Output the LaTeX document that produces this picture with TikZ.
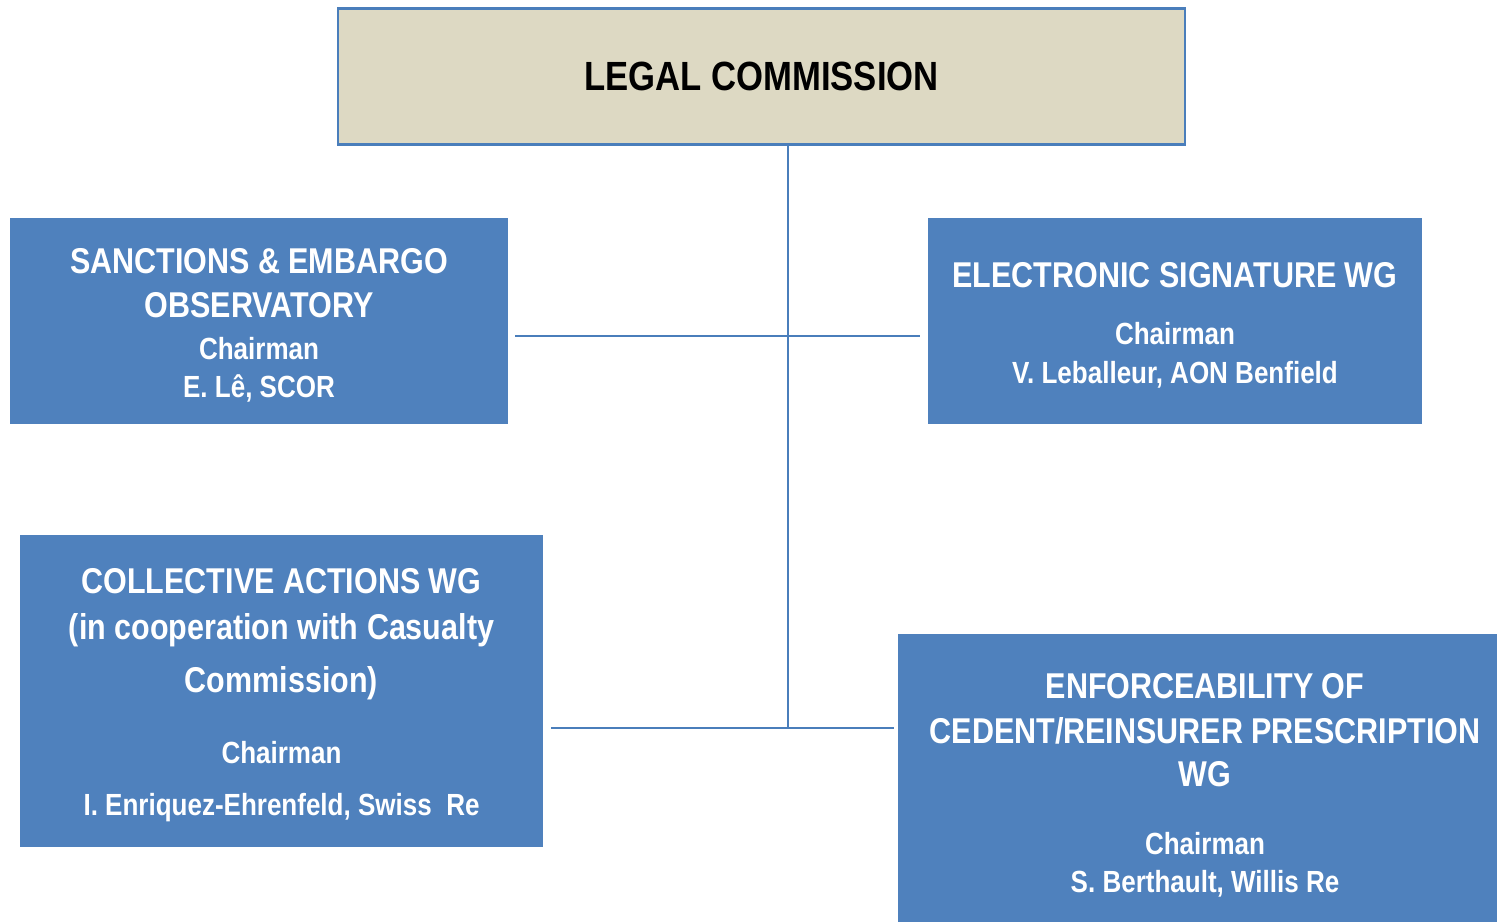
\documentclass[tikz,border=0pt]{standalone}
\usepackage{fontspec}
\setmainfont[FakeStretch=0.85]{Liberation Sans}
\definecolor{wgblue}{HTML}{4F81BD}
\definecolor{commtan}{HTML}{DDD9C3}
\definecolor{linkblue}{HTML}{4A7EBB}
\newcommand{\chairfont}{\fontsize{8.7}{12.5}\selectfont}
\newcommand{\topstrut}{\rule{0pt}{9.6pt}}

\begin{document}
\begin{tikzpicture}[
      x=0.01cm, y=-0.01cm,
      link/.style={draw=linkblue, line width=0.6pt},
      wgbox/.style={fill=wgblue, text=white, align=center, inner sep=0pt,
        font=\bfseries\fontsize{10.2}{12.5}\selectfont},
      commbox/.style={fill=commtan, draw=linkblue, line width=0.6pt, inner sep=0pt,
        font=\bfseries\fontsize{11.6}{14}\selectfont},
      ]
      \useasboundingbox (0,0) rectangle (1497,921);

      \node[commbox, minimum width=8.47cm, minimum height=1.36cm] (legal) at (761.5,76.5) {LEGAL COMMISSION};

      \node[wgbox, minimum width=4.98cm, minimum height=2.06cm] (sanctions) at (259,321)
        {\topstrut SANCTIONS \& EMBARGO\\ OBSERVATORY\\[-0.3pt] {\chairfont Chairman}\\[-1.7pt] {\chairfont E. Lê, SCOR}};
      \node[wgbox, minimum width=4.94cm, minimum height=2.06cm] (esign) at (1175,321)
        {\topstrut ELECTRONIC SIGNATURE WG\\[3.7pt] {\chairfont Chairman}\\[-1.4pt] {\chairfont V. Leballeur, AON Benfield}};
      \node[wgbox, minimum width=5.23cm, minimum height=3.12cm] (collective) at (281.5,691)
        {\topstrut COLLECTIVE ACTIONS WG\\[0.6pt] (in cooperation with Casualty\\[2.6pt] Commission)\\[7.7pt]
         {\chairfont Chairman}\\[2.3pt] {\chairfont I. Enriquez-Ehrenfeld, Swiss~ Re}};
      \node[wgbox, minimum width=6.14cm, minimum height=2.94cm] (enforce) at (1205,781)
        {\topstrut ENFORCEABILITY OF\\[0.3pt] CEDENT/REINSURER PRESCRIPTION\\[-0.3pt] WG\\[7.1pt]
         {\chairfont Chairman}\\[-1.7pt] {\chairfont S. Berthault, Willis Re}};

      \coordinate (upper) at (788,336);
      \coordinate (lower) at (788,728);
      \draw[link] (legal.south -| upper) -- (lower);
      \draw[link, shorten >=0.06cm] (upper) -- (upper -| sanctions.east);
      \draw[link, shorten >=0.07cm] (upper) -- (upper -| esign.west);
      \draw[link, shorten >=0.07cm] (lower) -- (lower -| collective.east);
      \draw[link, shorten >=0.03cm] (lower) -- (lower -| enforce.west);
    \end{tikzpicture}
\end{document}
